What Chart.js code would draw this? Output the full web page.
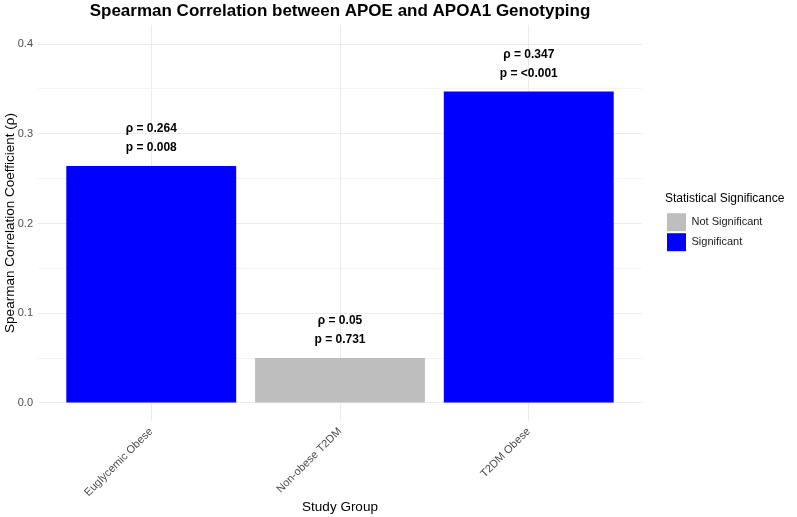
<!DOCTYPE html>
<html>
<head>
<meta charset="utf-8">
<script src="https://cdn.jsdelivr.net/npm/chart.js@4"></script>
<style>
  html, body { margin: 0; padding: 0; background: #ffffff; }
  #wrap { width: 797px; height: 517px; }
</style>
</head>
<body>
<div id="wrap"><canvas id="corrChart" width="797" height="517"></canvas></div>
<script>
// Data
const categories = ['Euglycemic Obese', 'Non-obese T2DM', 'T2DM Obese'];
const rhoValues = [0.264, 0.05, 0.347];
const pLabels = ['0.008', '0.731', '<0.001'];
const significance = ['Significant', 'Not Significant', 'Significant'];
const groups = ['Not Significant', 'Significant'];
const groupColors = ['#bebebe', '#0000ff'];
const yMajorTicks = [0, 0.1, 0.2, 0.3, 0.4];
const yMinorTicks = [0.05, 0.15, 0.25, 0.35];

Chart.defaults.font.family = '"Liberation Sans", Arial, sans-serif';

// one dataset per legend group, bars overlap on the same x slot
const datasets = groups.map(function(group, gi) {
    return {
        label: group,
        data: categories
            .map((c, i) => ({ x: i + 1, y: rhoValues[i] }))
            .filter((d, i) => significance[i] === group),
        backgroundColor: groupColors[gi],
        borderWidth: 0,
        grouped: false,
        barPercentage: 0.9,
        categoryPercentage: 1
    };
});

// rho / p labels above each bar
const barLabels = {
    id: 'barLabels',
    afterDatasetsDraw(chart) {
        const ctx = chart.ctx;
        const xs = chart.scales.x;
        const ys = chart.scales.y;
        ctx.save();
        ctx.font = 'bold 12px "Liberation Sans", Arial, sans-serif';
        ctx.fillStyle = '#000000';
        ctx.textAlign = 'center';
        ctx.textBaseline = 'middle';
        categories.forEach(function(c, i) {
            const x = xs.getPixelForValue(i + 1);
            const top = ys.getPixelForValue(rhoValues[i]);
            ctx.fillText('\u03c1 = ' + rhoValues[i], x, top - 37);
            ctx.fillText('p = ' + pLabels[i], x, top - 18);
        });
        ctx.restore();
    }
};

// title centred over the panel, like ggplot
const panelTitle = {
    id: 'panelTitle',
    afterDraw(chart) {
        const ctx = chart.ctx;
        const area = chart.chartArea;
        ctx.save();
        ctx.font = 'bold 17px "Liberation Sans", Arial, sans-serif';
        ctx.fillStyle = '#000000';
        ctx.textAlign = 'center';
        ctx.textBaseline = 'middle';
        ctx.fillText('Spearman Correlation between APOE and APOA1 Genotyping', (area.left + area.right) / 2, 11);
        ctx.restore();
    }
};

// legend box wide enough for its title
const legendWidth = {
    id: 'legendWidth',
    beforeLayout(chart) {
        const lg = chart.legend;
        if (lg && !lg._widthFixed) {
            const fit = lg.fit;
            lg.fit = function() {
                fit.call(this);
                this.width = 132;
            };
            lg._widthFixed = true;
        }
    }
};

new Chart(document.getElementById('corrChart'), {
    type: 'bar',
    data: { datasets: datasets },
    plugins: [barLabels, panelTitle, legendWidth],
    options: {
        responsive: false,
        animation: false,
        layout: { padding: { top: 25, right: 0, left: 0, bottom: 0 } },
        plugins: {
            legend: {
                position: 'right',
                align: 'center',
                fullSize: false,
                title: {
                    display: true,
                    text: 'Statistical Significance',
                    position: 'start',
                    color: '#000000',
                    font: { size: 12 },
                    padding: { top: 0, bottom: 4 }
                },
                labels: {
                    boxWidth: 19,
                    boxHeight: 18,
                    padding: 2,
                    color: '#1a1a1a',
                    font: { size: 11 }
                }
            },
            tooltip: { enabled: false }
        },
        scales: {
            x: {
                type: 'linear',
                min: 0.4,
                max: 3.6,
                offset: false,
                afterBuildTicks: function(scale) {
                    scale.ticks = categories.map((c, i) => ({ value: i + 1 }));
                },
                afterFit: function(scale) {
                    scale.height = 96;
                },
                grid: { color: '#ebebeb', lineWidth: 1, drawTicks: false, offset: false },
                border: { display: false },
                ticks: {
                    autoSkip: false,
                    minRotation: 45,
                    maxRotation: 45,
                    padding: 4,
                    color: '#4d4d4d',
                    font: { size: 11 },
                    callback: function(value) {
                        return categories[value - 1];
                    }
                },
                title: {
                    display: true,
                    text: 'Study Group',
                    color: '#000000',
                    font: { size: 13.5 },
                    padding: { top: 2, bottom: 2 }
                }
            },
            y: {
                min: -0.0201,
                max: 0.4212,
                afterBuildTicks: function(scale) {
                    scale.ticks = yMajorTicks.concat(yMinorTicks)
                        .sort((a, b) => a - b)
                        .map(v => ({ value: v }));
                },
                afterFit: function(scale) {
                    scale.width = 38;
                },
                grid: {
                    drawTicks: false,
                    color: function(ctx) {
                        return yMajorTicks.includes(ctx.tick && ctx.tick.value) ? '#ebebeb' : '#f3f3f3';
                    },
                    lineWidth: 1
                },
                border: { display: false },
                ticks: {
                    padding: 5,
                    color: '#4d4d4d',
                    font: { size: 11 },
                    callback: function(value) {
                        return yMajorTicks.includes(value) ? value.toFixed(1) : '';
                    }
                },
                title: {
                    display: true,
                    text: 'Spearman Correlation Coefficient (\u03c1)',
                    color: '#000000',
                    font: { size: 13.5 },
                    padding: { top: 2, bottom: 2 }
                }
            },
            // empty right-hand axis, only keeps the gap between panel and legend
            gap: {
                position: 'right',
                display: true,
                grid: { display: false },
                border: { display: false },
                ticks: { display: false },
                afterFit: function(scale) {
                    scale.width = 23;
                }
            }
        }
    }
});
</script>
</body>
</html>
